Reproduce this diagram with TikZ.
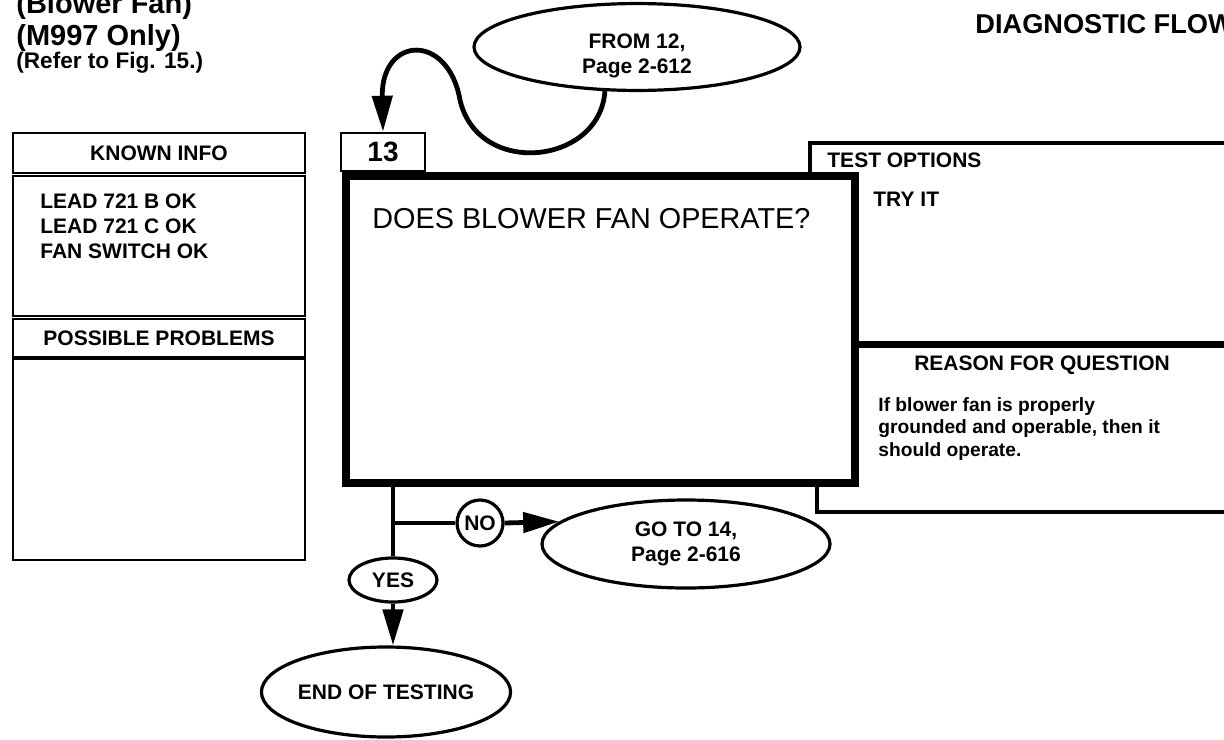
\documentclass[tikz,border=0pt]{standalone}
\usepackage{fontspec}
\setmainfont{Liberation Sans}
\usetikzlibrary{arrows.meta,positioning,shapes.geometric}
\tikzset{
  panel/.style={draw, line width=1.3pt, fill=white, inner sep=0pt},
  lab/.style={font=\fontsize{10.5pt}{12.5pt}\selectfont\bfseries, inner sep=0pt},
  body/.style={font=\fontsize{9.6pt}{11.3pt}\selectfont\bfseries, inner sep=0pt, align=left},
  titletxt/.style={font=\fontsize{14.5pt}{16pt}\selectfont\bfseries, inner sep=0pt},
  oval/.style={ellipse, draw, line width=1.6pt, fill=white, inner sep=0pt, align=center,
               font=\fontsize{10.5pt}{12.5pt}\selectfont\bfseries},
  flow/.style={line width=2.4pt},
  arr/.style={flow, -{Triangle[length=18pt,width=10pt]}},
}
\begin{document}
\begin{tikzpicture}[x=0.5pt,y=-0.5pt]
  \useasboundingbox (0,0) rectangle (1224,739);
  \clip (0,0) rectangle (1224,739);
  % headings
  \node[titletxt, anchor=base west] (blower) at (16,13) {(Blower Fan)};
  \node[titletxt, anchor=base west] (model) at (16,45) {(M997 Only)};
  \node[titletxt, font=\fontsize{11.3pt}{13pt}\selectfont\bfseries, anchor=base west] (refer) at (16,68) {(Refer to Fig. 15.)};
  \node[titletxt, font=\fontsize{13.6pt}{16pt}\selectfont\bfseries, anchor=base west] (diag) at (975,33) {DIAGNOSTIC FLOW};
  % left column
  \node[panel, lab, minimum width=146pt, minimum height=20pt] (knownhdr) at (159,153) {KNOWN INFO};
  \node[panel, minimum width=146pt, minimum height=70pt] (knownbox) at (159,246) {};
  \node[lab, align=left, anchor=north west] (knowntxt) at (40,193) {LEAD 721 B OK\\LEAD 721 C OK\\FAN SWITCH OK};
  \node[panel, lab, minimum width=146pt, minimum height=19pt] (probhdr) at (159,338) {POSSIBLE PROBLEMS};
  \node[panel, minimum width=146pt, minimum height=100.5pt] (probbox) at (159,459.5) {};
  % right column
  \node[panel, line width=1.6pt, minimum width=220pt, minimum height=100pt] (testbox) at (1030,243) {};
  \node[lab, anchor=west] (testhdr) at (827,160) {TEST OPTIONS};
  \node[lab, anchor=west] (tryit) at (873,199) {TRY IT};
  \node[panel, line width=1.6pt, minimum width=216.5pt, minimum height=83pt] (reasonbox) at (1033.5,429) {};
  \node[lab] (reasonhdr) at (1042,365) {REASON FOR QUESTION};
  \node[body, anchor=north west] (reasontxt) at (878,397) {If blower fan is properly\\grounded and operable, then it\\should operate.};
  % step 13
  \node[panel, draw, line width=4pt, minimum width=254.5pt, minimum height=153.5pt] (main) at (600.5,329.5) {};
  \node[panel, font=\fontsize{14pt}{16pt}\selectfont\bfseries, minimum width=42pt, minimum height=19pt] (step13) at (383,152) {13};
  \node[font=\fontsize{14.4pt}{17pt}\selectfont, inner sep=0pt, anchor=west] (question) at (372,219) {DOES BLOWER FAN OPERATE?};
  % terminals
  \node[oval, minimum width=163pt, minimum height=42pt] (from12) at (637,47) {\rule{0pt}{16pt}FROM 12,\\Page 2-612};
  \node[oval, minimum width=144pt, minimum height=44pt] (goto) at (686,544) {GO TO 14,\\Page 2-616};
  \node[oval, minimum width=44pt, minimum height=22pt] (yes) at (393,580) {YES};
  \node[oval, circle, minimum size=23pt] (no) at (480,523) {NO};
  \node[oval, minimum width=124pt, minimum height=45pt] (endtest) at (386,692) {END OF TESTING};
  % connectors
  \draw[arr] (from12.234) .. controls (600,165) and (478,178) .. (460,100) .. controls (448,32) and (381,36) .. (step13.north);
  \draw[flow] (main.south -| yes.north) -- (yes.north);
  \draw[flow] (yes.north |- no.west) -- (no.west);
  \draw[arr] (no.east) -- (goto.170);
  \draw[arr] (yes.south) -- (endtest.north -| yes.south);
\end{tikzpicture}
\end{document}
